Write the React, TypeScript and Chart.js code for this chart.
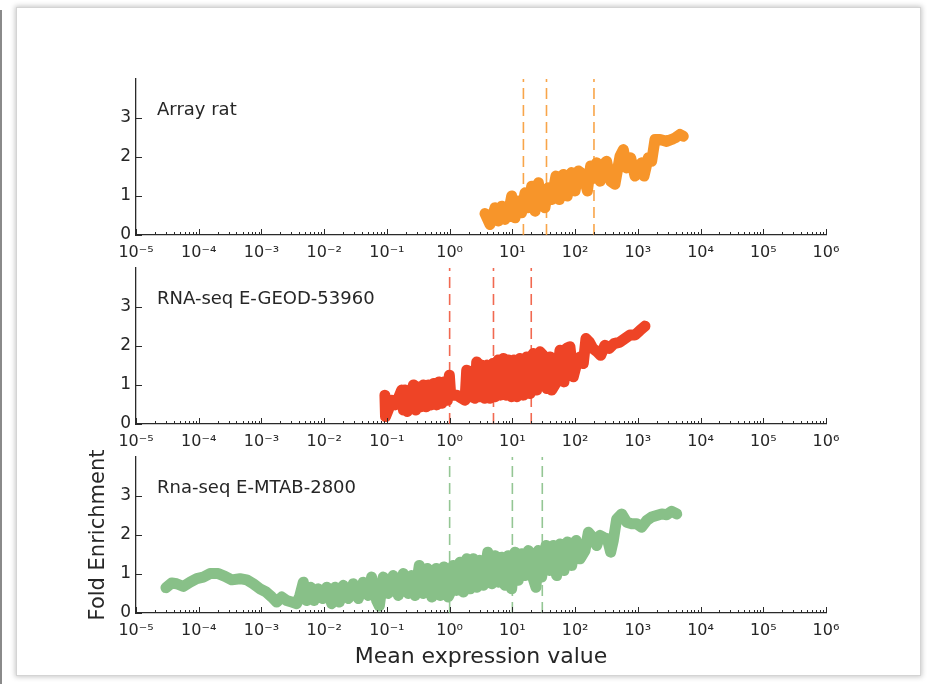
import React, { useEffect, useRef } from 'react';
import { Chart, registerables } from 'chart.js';

Chart.register(...registerables);

// ---------- data ----------
const xTickValues = [1e-5, 1e-4, 1e-3, 1e-2, 1e-1, 1, 10, 100, 1e3, 1e4, 1e5, 1e6];
const xTickLabels = ['10⁻⁵', '10⁻⁴', '10⁻³', '10⁻²', '10⁻¹', '10⁰', '10¹', '10²', '10³', '10⁴', '10⁵', '10⁶'];
const xMinorMultipliers = [2, 3, 4, 5, 6, 7, 8, 9];
const yTickValues = [0, 1, 2, 3];
const yTickLabels = ['0', '1', '2', '3'];

const panelLabels = ['Array rat', 'RNA-seq E-GEOD-53960', 'Rna-seq E-MTAB-2800'];
const panelColors = ['#f7952a', '#ee4426', '#88c088'];
const cutoffColors = ['rgba(247,149,42,0.85)', 'rgba(238,68,38,0.8)', 'rgba(136,192,136,0.9)'];

const arrayRatX = [3.66, 4.4, 5.3, 5.97, 6.76, 7.6, 8.6, 9.75, 11, 12.4, 14, 15.9, 18, 20.3, 23, 26, 29.3, 33, 37.4, 42.3, 49.5, 56, 65, 75, 88, 100, 113, 135, 157, 177, 200, 221, 250, 282, 318, 369, 432, 520, 587, 664, 769, 901, 1018, 1150, 1253, 1469, 1663, 1879, 2256, 2884, 3467, 3918, 4700, 5310];
const arrayRatY = [0.55, 0.27, 0.70, 0.36, 0.74, 0.40, 0.53, 1.0, 0.44, 0.87, 0.57, 1.08, 0.70, 1.25, 0.61, 1.34, 0.78, 0.70, 1.21, 0.91, 1.51, 0.91, 1.55, 1.00, 1.60, 1.13, 1.64, 1.55, 1.13, 1.77, 1.47, 1.85, 1.38, 1.81, 1.89, 1.38, 1.30, 2.02, 2.19, 1.72, 1.98, 1.51, 1.72, 1.85, 1.51, 1.98, 1.89, 2.45, 2.45, 2.40, 2.45, 2.49, 2.58, 2.53];
const arrayRatCutoffs = [15, 35, 200];

const geodX = [0.093, 0.095, 0.105, 0.119, 0.135, 0.152, 0.172, 0.183, 0.194, 0.211, 0.233, 0.264, 0.288, 0.317, 0.346, 0.38, 0.42, 0.46, 0.51, 0.56, 0.62, 0.68, 0.75, 0.83, 0.92, 0.99, 1.04, 1.30, 1.56, 1.76, 1.87, 2.11, 2.25, 2.54, 2.70, 2.98, 3.28, 3.62, 4.0, 4.4, 4.85, 5.35, 5.9, 6.5, 7.2, 7.9, 8.7, 9.6, 10.6, 11.7, 13.2, 14.9, 16.9, 19.1, 21.6, 24.4, 27.5, 31, 35.2, 39.8, 42.3, 50.8, 57.4, 66.5, 73.3, 82.8, 93.5, 106, 120, 135, 149, 169, 191, 226, 256, 299, 351, 417, 520, 624, 750, 901, 1082, 1300];
const geodY = [0.74, 0.19, 0.36, 0.61, 0.49, 0.66, 0.87, 0.36, 0.87, 0.32, 0.53, 1.0, 0.36, 0.95, 0.44, 1.0, 0.44, 1.0, 0.49, 1.04, 0.49, 1.08, 0.53, 1.08, 0.61, 1.25, 0.74, 0.74, 0.66, 0.61, 1.38, 1.34, 0.70, 0.66, 1.59, 0.70, 1.51, 0.66, 1.51, 0.66, 1.55, 0.70, 1.64, 0.74, 1.68, 0.74, 1.64, 0.70, 1.64, 0.70, 1.68, 0.74, 1.72, 0.78, 1.81, 0.87, 1.85, 1.76, 0.91, 1.72, 0.87, 1.08, 1.89, 1.08, 1.94, 1.98, 1.21, 1.55, 1.72, 1.55, 2.19, 2.10, 1.94, 1.85, 1.76, 2.02, 1.94, 2.06, 2.10, 2.19, 2.28, 2.28, 2.40, 2.51];
const geodCutoffs = [1, 5, 20];

const mtabX = [3.0e-5, 3.7e-5, 4.45e-5, 5.7e-5, 7.3e-5, 9.3e-5, 1.18e-4, 1.51e-4, 2.05e-4, 2.62e-4,
  3.36e-4, 4.55e-4, 5.8e-4, 7.4e-4, 9.5e-4, 1.18e-3, 1.46e-3, 1.75e-3, 2.1e-3, 2.52e-3,
  3.03e-3, 3.65e-3, 4.1e-3, 4.65e-3, 5.25e-3, 6.1e-3, 6.9e-3, 8.05e-3, 9.5e-3, 0.011,
  0.0132, 0.0149, 0.0175, 0.0202, 0.0243, 0.0291, 0.035, 0.042, 0.0505, 0.057,
  0.0687, 0.0757, 0.0875, 0.105, 0.126, 0.152, 0.182, 0.219, 0.248, 0.28,
  0.328, 0.38, 0.44, 0.52, 0.61, 0.70, 0.81, 0.95, 1.01, 1.14,
  1.29, 1.46, 1.65, 1.87, 2.11, 2.38, 2.70, 3.05, 3.44, 4.05,
  4.68, 5.28, 5.97, 6.76, 7.62, 8.6, 9.75, 11.0, 12.4, 14.1,
  15.9, 18.0, 20.3, 23.8, 25.9, 29.3, 34.4, 38.8, 44.9, 50.8,
  57.4, 66.5, 75.2, 88.3, 104, 120, 144, 163, 191, 221,
  250, 282, 327, 369, 407, 460, 553, 664, 798, 960,
  1150, 1383, 1663, 1995, 2400, 2884, 3467, 4170];
const mtabY = [0.65, 0.77, 0.75, 0.68, 0.79, 0.88, 0.92, 1.01, 1.01, 0.94,
  0.85, 0.88, 0.85, 0.75, 0.62, 0.54, 0.41, 0.28, 0.41, 0.32,
  0.28, 0.24, 0.45, 0.79, 0.32, 0.66, 0.32, 0.62, 0.37, 0.66,
  0.24, 0.66, 0.28, 0.71, 0.37, 0.75, 0.37, 0.79, 0.45, 0.92,
  0.32, 0.18, 0.92, 0.50, 0.96, 0.45, 1.01, 0.50, 0.96, 0.45,
  1.22, 0.50, 1.14, 0.41, 1.14, 0.45, 1.18, 0.41, 0.50, 1.22,
  0.58, 1.30, 0.54, 1.39, 0.62, 1.39, 0.66, 1.35, 0.71, 1.56,
  0.75, 1.47, 0.79, 1.43, 0.71, 1.47, 0.62, 1.56, 0.84, 1.52,
  0.96, 1.60, 1.01, 0.66, 1.60, 0.92, 1.73, 1.09, 1.73, 0.96,
  1.77, 1.09, 1.82, 1.22, 1.86, 1.39, 1.60, 2.07, 1.94, 1.73,
  1.99, 1.94, 1.90, 1.56, 1.86, 2.41, 2.54, 2.33, 2.29, 2.29,
  2.20, 2.37, 2.46, 2.50, 2.54, 2.52, 2.61, 2.54];
const mtabCutoffs = [1, 10, 30];

const yTitle = 'Fold Enrichment';
const xTitle = 'Mean expression value';

// ---------- styling ----------
const FONT = '"DejaVu Sans", "Bitstream Vera Sans", sans-serif';
const TEXT = '#262626';
const AXIS = '#2a2a2a';

const innerTicks = {
  id: 'innerTicks',
  afterDraw(chart: any, _args: any, opts: any) {
    const { ctx, chartArea } = chart;
    const xs = chart.scales.x;
    const ys = chart.scales.y;
    const { left, top, bottom } = chartArea;
    ctx.save();
    ctx.strokeStyle = AXIS;
    ctx.lineWidth = 1;
    ctx.beginPath();
    xTickValues.forEach((v) => {
      const p = Math.round(xs.getPixelForValue(v)) + 0.5;
      ctx.moveTo(p, bottom);
      ctx.lineTo(p, bottom - 6);
    });
    xTickValues.slice(0, -1).forEach((d) => {
      xMinorMultipliers.forEach((m) => {
        const p = Math.round(xs.getPixelForValue(d * m)) + 0.5;
        ctx.moveTo(p, bottom);
        ctx.lineTo(p, bottom - 3);
      });
    });
    yTickValues.forEach((v) => {
      const p = Math.round(ys.getPixelForValue(v)) + 0.5;
      ctx.moveTo(left, p);
      ctx.lineTo(left + 6, p);
    });
    ctx.stroke();
    ctx.fillStyle = TEXT;
    ctx.font = `18px ${FONT}`;
    ctx.textAlign = 'left';
    ctx.textBaseline = 'alphabetic';
    ctx.fillText(opts.label, left + 21, top + 36);
    ctx.restore();
  },
};

type PanelProps = {
  index: number;
  xs: number[];
  ys: number[];
  cutoffs: number[];
  top: number;
  height: number;
  xAxisHeight: number;
  showTitles: boolean;
};

function Panel({ index, xs, ys, cutoffs, top, height, xAxisHeight, showTitles }: PanelProps) {
  const ref = useRef<HTMLCanvasElement | null>(null);
  useEffect(() => {
    if (!ref.current) return;
    const color = panelColors[index];
    const datasets: any[] = [
      {
        data: xs.map((x, i) => ({ x, y: ys[i] })),
        borderColor: color,
        backgroundColor: color,
        borderWidth: 11,
        borderJoinStyle: 'round',
        borderCapStyle: 'round',
        pointRadius: 0,
        tension: 0,
        fill: false,
        order: 0,
        clip: 8,
      },
      ...cutoffs.map((c) => ({
        data: [{ x: c, y: 0 }, { x: c, y: 4 }],
        borderColor: cutoffColors[index],
        borderWidth: 1.6,
        borderDash: [11, 6],
        pointRadius: 0,
        fill: false,
        order: 1,
      })),
    ];
    const chart = new Chart(ref.current, {
      type: 'line',
      data: { datasets },
      options: {
        responsive: false,
        animation: false,
        events: [],
        layout: { padding: { left: 86, right: 102, top: 20, bottom: 0 } },
        plugins: {
          legend: { display: false },
          tooltip: { enabled: false },
          innerTicks: { label: panelLabels[index] },
        } as any,
        scales: {
          x: {
            type: 'logarithmic',
            min: 1e-5,
            max: 1e6,
            z: 1,
            grid: { display: false, drawTicks: false },
            border: { display: true, color: AXIS, width: 1.3 },
            afterBuildTicks: (scale: any) => {
              scale.ticks = xTickValues.map((value) => ({ value, major: true }));
            },
            afterFit: (scale: any) => {
              scale.height = xAxisHeight;
            },
            ticks: {
              autoSkip: false,
              maxRotation: 0,
              padding: 8,
              color: TEXT,
              font: { family: FONT, size: 16 },
              callback: (value: any) => {
                const i = xTickValues.findIndex((v) => Math.abs(Math.log10(v) - Math.log10(value)) < 1e-6);
                return i >= 0 ? xTickLabels[i] : '';
              },
            },
            title: {
              display: showTitles,
              text: xTitle,
              color: TEXT,
              font: { family: FONT, size: 22 },
              padding: { top: 0, bottom: 0 },
            },
          },
          y: {
            type: 'linear',
            min: 0,
            max: 4,
            z: 1,
            grid: { display: false, drawTicks: false },
            border: { display: true, color: AXIS, width: 1.3 },
            afterBuildTicks: (scale: any) => {
              scale.ticks = yTickValues.map((value) => ({ value }));
            },
            afterFit: (scale: any) => {
              scale.width = 50;
            },
            ticks: {
              padding: 5,
              color: TEXT,
              font: { family: FONT, size: 17 },
              callback: (value: any) => {
                const i = yTickValues.indexOf(value);
                return i >= 0 ? yTickLabels[i] : '';
              },
            },
            title: {
              display: showTitles,
              text: yTitle,
              color: TEXT,
              font: { family: FONT, size: 21 },
              padding: { top: 0, bottom: 0 },
            },
          },
        },
      } as any,
      plugins: [innerTicks as any],
    });
    return () => chart.destroy();
  }, [index, xs, ys, cutoffs, xAxisHeight, showTitles]);

  return (
    <canvas
      ref={ref}
      width={928}
      height={height}
      style={{ position: 'absolute', left: 0, top, width: 928, height }}
    />
  );
}

export default function App() {
  return (
    <div style={{ position: 'fixed', left: 0, top: 0, width: 928, height: 684, background: '#fff', overflow: 'hidden' }}>
      <div style={{ position: 'absolute', left: 0, top: 10, width: 2, height: 680, background: '#8a8a8a' }} />
      <div
        style={{
          position: 'absolute',
          left: 16,
          top: 7,
          width: 903,
          height: 667,
          border: '1px solid #d4d4d4',
          boxShadow: '0 0 5px 1px rgba(0,0,0,0.22)',
          background: '#fff',
        }}
      />
      <Panel index={0} xs={arrayRatX} ys={arrayRatY} cutoffs={arrayRatCutoffs} top={59} height={206} xAxisHeight={30} showTitles={false} />
      <Panel index={1} xs={geodX} ys={geodY} cutoffs={geodCutoffs} top={248} height={206} xAxisHeight={30} showTitles={false} />
      <Panel index={2} xs={mtabX} ys={mtabY} cutoffs={mtabCutoffs} top={437} height={233} xAxisHeight={57} showTitles={true} />
    </div>
  );
}
